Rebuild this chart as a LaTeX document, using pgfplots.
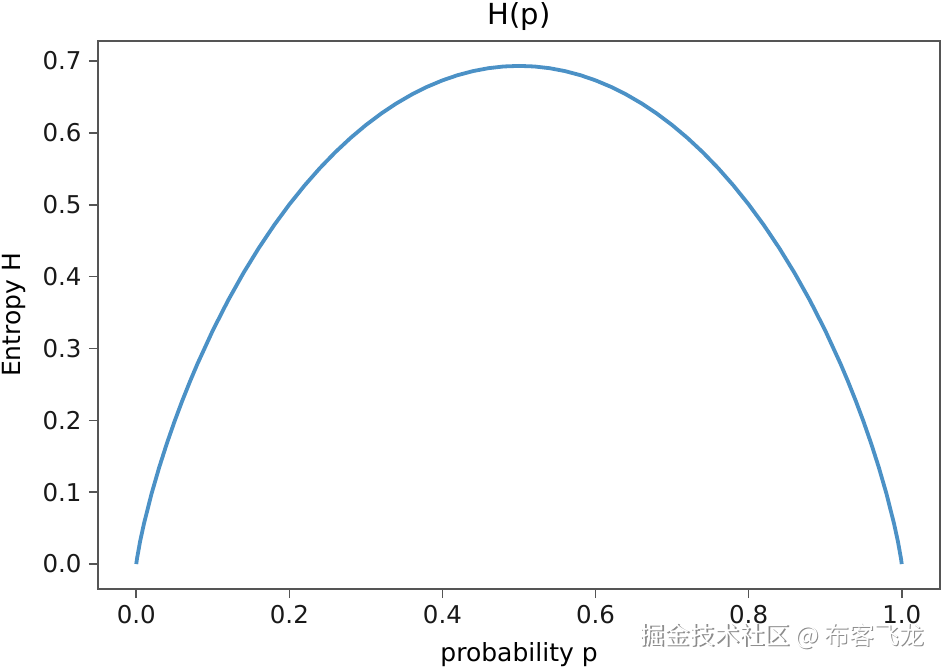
\documentclass[border=0pt]{standalone}
\usepackage{fontspec}
\setmainfont{DejaVu Sans}
\newfontfamily\cjk{Noto Sans CJK SC}
\usepackage{pgfplots}
\pgfplotsset{compat=1.18}
\definecolor{mplblue}{RGB}{75,145,198}
\definecolor{spine}{RGB}{85,85,85}
\begin{document}
\begin{tikzpicture}
\useasboundingbox (-98bp,-81bp) rectangle (847bp,589bp);
\begin{axis}[
  at={(0,0)}, anchor=south west,
  scale only axis, width=842bp, height=548bp,
  xmin=-0.05, xmax=1.05, ymin=-0.0347, ymax=0.7278,
  xtick={0,0.2,0.4,0.6,0.8,1.0},
  ytick={0,0.1,0.2,0.3,0.4,0.5,0.6,0.7},
  /pgf/number format/.cd, fixed, fixed zerofill, precision=1, assume math mode=true,
  /pgfplots/.cd,
  tick align=outside, major tick length=9bp,
  tick style={spine, line width=1.6bp},
  xtick pos=bottom, ytick pos=left,
  axis line style={spine, line width=2bp},
  ticklabel style={font=\fontsize{24.5bp}{28bp}\selectfont, text=black!90},
  xticklabel style={yshift=-4bp},
  yticklabel style={xshift=-4bp},
  title={H(p)},
  title style={font=\fontsize{29bp}{34bp}\selectfont, at={(axis description cs:0.5,1.0)}, anchor=base, yshift=11bp},
  xlabel={probability p},
  xlabel style={font=\fontsize{25bp}{28bp}\selectfont, at={(axis description cs:0.5,-0.1314)}, anchor=base},
  ylabel={Entropy H},
  ylabel style={font=\fontsize{25bp}{28bp}\selectfont, at={(axis description cs:-0.1000,0.5)}, anchor=center},
  clip=false,
]
\addplot[mplblue, line width=3.8bp, line join=round] coordinates {
(0,0) (0.001,0.007907) (0.005,0.031479) (0.01,0.056002) (0.02,0.098039) (0.03,0.134742)
(0.04,0.167944) (0.05,0.198515) (0.06,0.226968) (0.07,0.253639) (0.08,0.278769) (0.10,0.325083)
(0.12,0.366925) (0.14,0.404964) (0.16,0.43967) (0.18,0.471394) (0.20,0.500402)
(0.22,0.526908) (0.24,0.55108) (0.26,0.573057) (0.28,0.592953) (0.30,0.610864)
(0.32,0.626869) (0.34,0.641035) (0.36,0.653418) (0.38,0.664064) (0.40,0.673011)
(0.42,0.680292) (0.44,0.68593) (0.46,0.689944) (0.48,0.692347) (0.50,0.693147)
(0.52,0.692347) (0.54,0.689944) (0.56,0.68593) (0.58,0.680292) (0.60,0.673011)
(0.62,0.664064) (0.64,0.653418) (0.66,0.641035) (0.68,0.626869) (0.70,0.610864)
(0.72,0.592953) (0.74,0.573057) (0.76,0.55108) (0.78,0.526908) (0.80,0.500402)
(0.82,0.471394) (0.84,0.43967) (0.86,0.404964) (0.88,0.366925) (0.90,0.325083)
(0.92,0.278769) (0.93,0.253639) (0.94,0.226968) (0.95,0.198515) (0.96,0.167944) (0.97,0.134742)
(0.98,0.098039) (0.99,0.056002) (0.995,0.031479) (0.999,0.007907) (1,0)
};
\end{axis}
\node[text=black!45, font=\cjk\fontsize{25bp}{28bp}\selectfont] at (685.5bp,-48.5bp) {掘金技术社区 @ 布客飞龙};
\node[text=white, font=\cjk\fontsize{25bp}{28bp}\selectfont] at (684bp,-47bp) {掘金技术社区 @ 布客飞龙};
\end{tikzpicture}
\end{document}
